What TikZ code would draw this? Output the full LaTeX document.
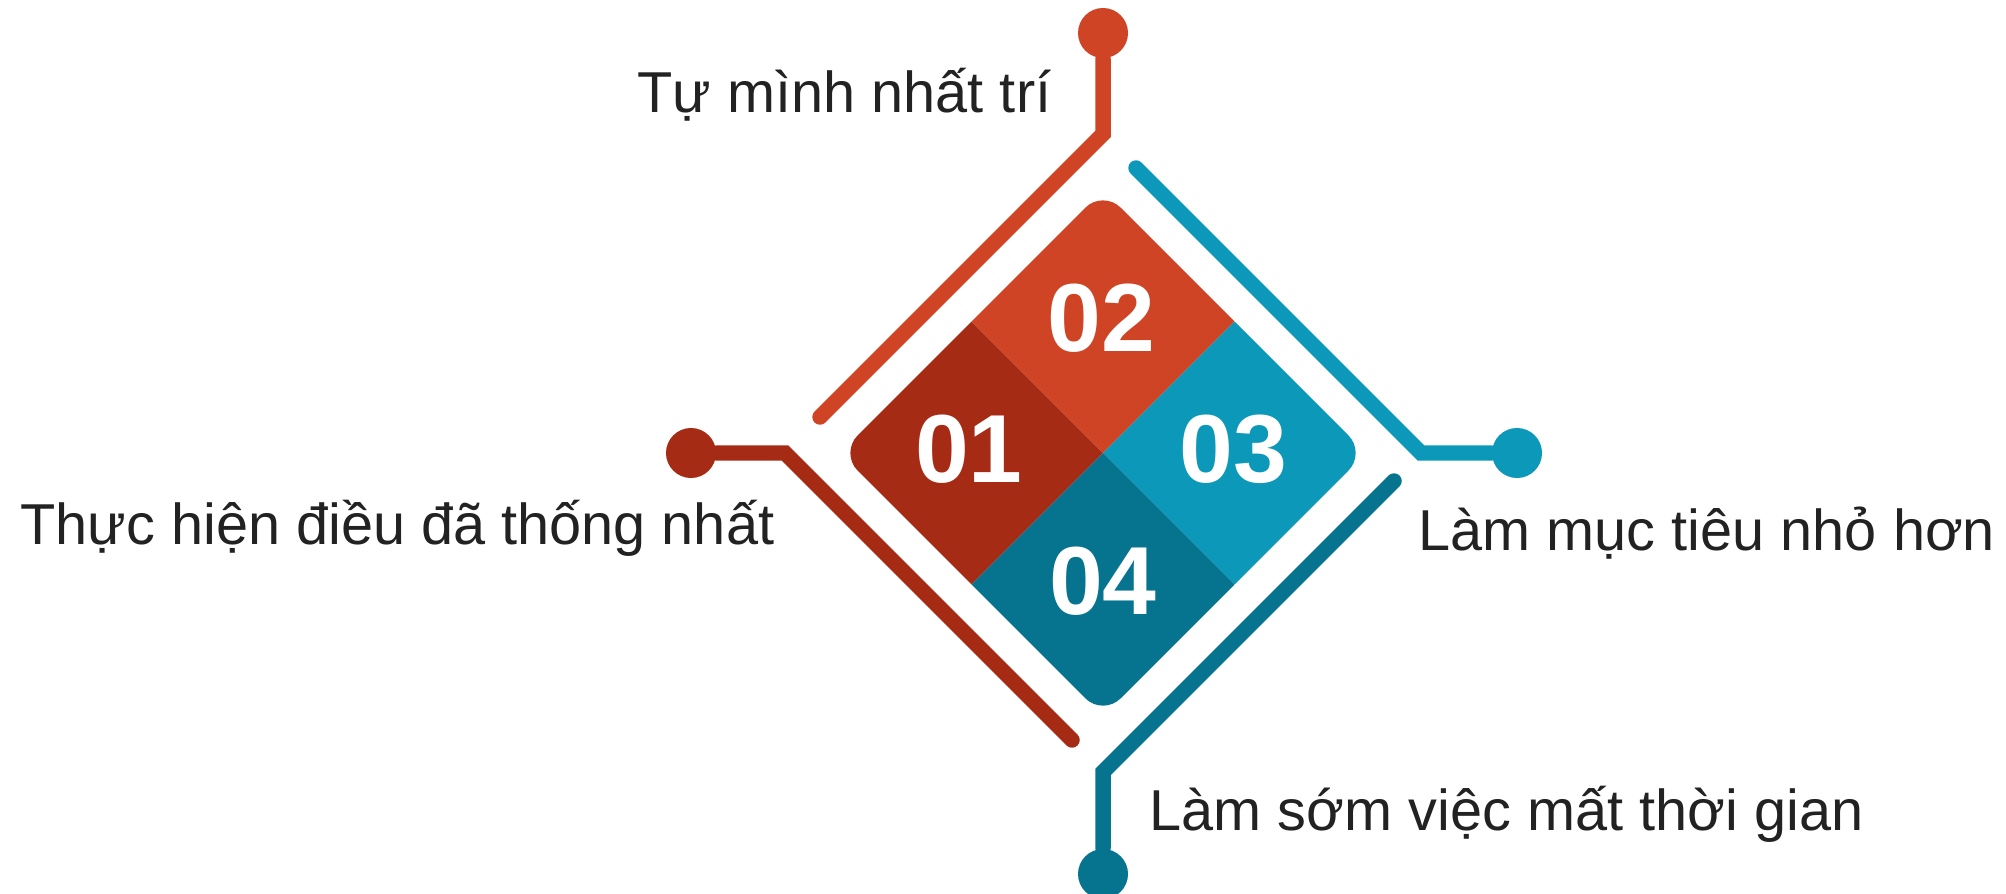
\documentclass[tikz,border=0pt]{standalone}
\usepackage{fontspec}
\setmainfont{Liberation Sans}
\definecolor{StepOne}{HTML}{A62B14}
\definecolor{StepTwo}{HTML}{D04426}
\definecolor{StepThree}{HTML}{0B98B9}
\definecolor{StepFour}{HTML}{07748F}
\definecolor{TextGray}{HTML}{222222}

\begin{document}
\begin{tikzpicture}[x=0.01cm, y=-0.01cm,
    wire/.style={line width=4.4pt, line cap=round},
    dot/.style={circle, fill=#1, inner sep=0pt, minimum size=0.5cm},
    num/.style={text=white, font=\fontsize{27.5}{30}\selectfont\bfseries},
    lbl/.style={text=TextGray, inner sep=0pt, font=\fontsize{16.4}{20}\selectfont}]
        \useasboundingbox (0,0) rectangle (2006,894);
        % Diamond, split in four, outer corners rounded
        \begin{scope}
            \clip [rounded corners=0.25cm] (1103,190) -- (1366,453) -- (1103,716) -- (840,453) -- cycle;
            \fill [StepOne] (1103,453) -- (971.5,321.5) -- (840,453) -- (971.5,584.5) -- cycle;
            \fill [StepTwo] (1103,453) -- (971.5,321.5) -- (1103,190) -- (1234.5,321.5) -- cycle;
            \fill [StepThree] (1103,453) -- (1234.5,321.5) -- (1366,453) -- (1234.5,584.5) -- cycle;
            \fill [StepFour] (1103,453) -- (1234.5,584.5) -- (1103,716) -- (971.5,584.5) -- cycle;
        \end{scope}
        \node [num] (q1) at (969,449) {01};
        \node [num] (q2) at (1101,318) {02};
        \node [num] (q3) at (1233,449) {03};
        \node [num] (q4) at (1103,581) {04};
        % End dots
        \node [dot=StepOne] (d1) at (691,453) {};
        \node [dot=StepTwo] (d2) at (1103,33) {};
        \node [dot=StepThree] (d3) at (1517,453) {};
        \node [dot=StepFour] (d4) at (1103,874) {};
        % Bends and loose ends of the wires
        \coordinate (b1) at (785,453);
        \coordinate (e1) at (1072,740);
        \coordinate (b2) at (1103,134);
        \coordinate (e2) at (820,417);
        \coordinate (s3) at (1136,168);
        \coordinate (b3) at (1421,453);
        \coordinate (s4) at (1394,481);
        \coordinate (b4) at (1103,772);
        \draw [wire, StepOne] (d1) -- (b1) -- (e1);
        \draw [wire, StepTwo] (d2) -- (b2) -- (e2);
        \draw [wire, StepThree] (s3) -- (b3) -- (d3);
        \draw [wire, StepFour] (s4) -- (b4) -- (d4);
        % Labels
        \node [lbl, anchor=base east] (t1) at (775,544) {Thực hiện điều đã thống nhất};
        \node [lbl, anchor=base east] (t2) at (1052,113) {Tự mình nhất trí};
        \node [lbl, anchor=base west] (t3) at (1418,550) {Làm mục tiêu nhỏ hơn};
        \node [lbl, anchor=base west] (t4) at (1149,830) {Làm sớm việc mất thời gian};
    \end{tikzpicture}
\end{document}
